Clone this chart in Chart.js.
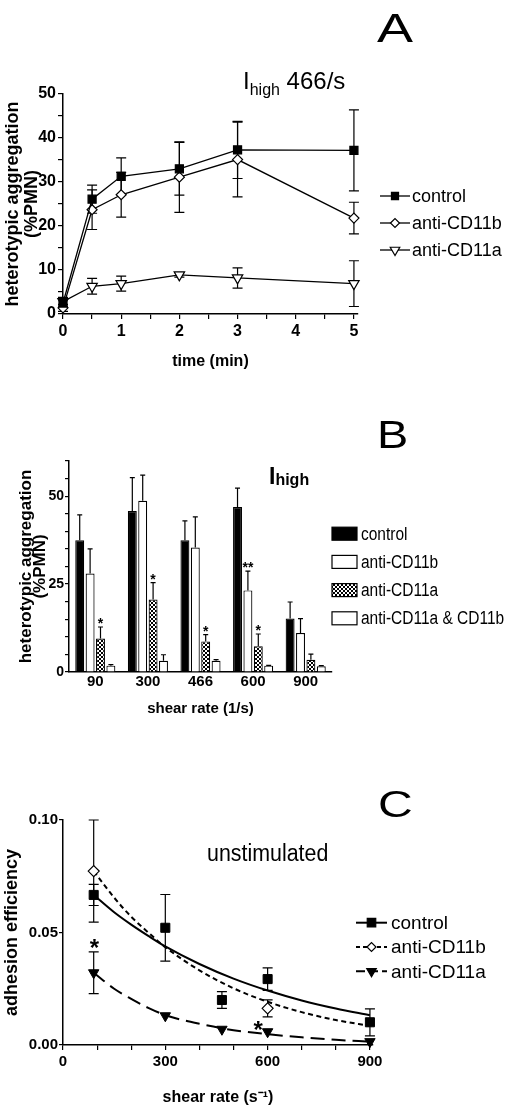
<!DOCTYPE html>
<html>
<head>
<meta charset="utf-8">
<script src="https://cdn.jsdelivr.net/npm/chart.js@4.4.1/dist/chart.umd.min.js"></script>
<style>
html, body { margin: 0; padding: 0; background: #fff; }
#page { position: relative; width: 520px; height: 1109px; overflow: hidden; }
canvas { position: absolute; left: 0; }
.lbl { position: absolute; font-family: "Liberation Sans", Arial, sans-serif; line-height: 1; white-space: nowrap; color: #000; transform-origin: 0 0; }
</style>
</head>
<body>
<div id="page">
  <canvas id="chartA" width="520" height="375" style="top:0"></canvas>
  <canvas id="chartB" width="520" height="345" style="top:375px"></canvas>
  <canvas id="chartC" width="520" height="389" style="top:720px"></canvas>

  <div class="lbl" style="left:377px;top:8px;font-size:40px;transform:scaleX(1.35)">A</div>
  <div class="lbl" style="left:243px;top:69px;font-size:24px">I<span style="font-size:16px;position:relative;top:6px">high</span> 466/s</div>

  <div class="lbl" style="left:377px;top:415px;font-size:39px;transform:scaleX(1.2)">B</div>
  <div class="lbl" style="left:269px;top:465px;font-size:23px;font-weight:bold">I<span style="font-size:16px;position:relative;top:1px">high</span></div>

  <div class="lbl" style="left:378px;top:786px;font-size:37px;transform:scaleX(1.3)">C</div>
  <div class="lbl" style="left:207px;top:842px;font-size:23px;transform:scaleX(0.93)">unstimulated</div>
</div>

<script>
// ---- panel A: aggregation vs time, I-high 466/s ----
const timeMin = [0, 0.5, 1, 2, 3, 5];
const aControl = [2.5, 26.1, 31.3, 33.0, 37.3, 37.2];
const aControlErr = [1.2, 3.2, 4.2, 6.0, 6.5, 9.2];
const aCd11b = [1.4, 23.7, 27.1, 31.1, 35.1, 21.8];
const aCd11bErr = [0.8, 4.5, 5.1, 8.0, 8.5, 3.6];
const aCd11a = [2.8, 6.3, 6.9, 8.9, 8.2, 6.9];
const aCd11aErr = [1.0, 1.8, 1.7, 0.5, 2.3, 5.2];
const aXTicks = [0, 0.5, 1, 1.5, 2, 2.5, 3, 3.5, 4, 4.5, 5];
const aXLabels = [0, 1, 2, 3, 4, 5];
const aYTicks = [0, 5, 10, 15, 20, 25, 30, 35, 40, 45, 50];
const aYLabels = [0, 10, 20, 30, 40, 50];

// ---- panel B: aggregation vs shear rate ----
const shearCats = ['90', '300', '466', '600', '900'];
const bControl = [37.5, 45.8, 37.5, 46.9, 15.2];
const bControlErr = [7.2, 9.5, 5.5, 5.4, 4.7];
const bCd11b = [28.0, 48.7, 35.4, 23.2, 11.1];
const bCd11bErr = [7.0, 7.3, 8.7, 5.5, 4.1];
const bCd11a = [9.5, 20.6, 8.7, 7.3, 3.5];
const bCd11aErr = [3.3, 4.8, 1.9, 3.5, 1.6];
const bBoth = [1.8, 3.2, 3.2, 1.8, 1.6];
const bBothErr = [0.3, 1.7, 0.3, 0.1, 0.2];
const bStars = [
  { cat: 0, series: 2, text: '*' },
  { cat: 1, series: 2, text: '*' },
  { cat: 2, series: 2, text: '*' },
  { cat: 3, series: 1, text: '**' },
  { cat: 3, series: 2, text: '*' }
];
const bYTicks = [0, 5, 10, 15, 20, 25, 30, 35, 40, 45, 50, 55, 60];
const bYLabels = [0, 25, 50];

// ---- panel C: adhesion efficiency, unstimulated ----
const cShear = [90, 300, 466, 600, 900];
const cControl = [0.0667, 0.0521, 0.0200, 0.0293, 0.0101];
const cControlErr = [0.0047, 0.0148, 0.0037, 0.0050, 0.0060];
const cCd11b = [0.0773, null, null, 0.0163, null];
const cCd11bErr = [0.0227, null, null, 0.0038, null];
const cCd11a = [0.0321, 0.0130, 0.0070, 0.0059, 0.0015];
const cCd11aErr = [0.0093, 0, 0, 0, 0];
const fitShear = [90, 150, 200, 250, 300, 400, 500, 600, 700, 800, 900];
const fitControl = [0.0667, 0.0590, 0.0535, 0.0485, 0.0438, 0.0360, 0.0295, 0.0242, 0.0198, 0.0162, 0.0132];
const fitCd11b = [0.0773, 0.0655, 0.0570, 0.0500, 0.0435, 0.0332, 0.0252, 0.0192, 0.0146, 0.0111, 0.0085];
const fitCd11a = [0.0321, 0.0250, 0.0205, 0.0165, 0.0133, 0.0094, 0.0066, 0.0048, 0.0034, 0.0023, 0.0015];
const cStars = [{ x: 92, y: 0.0453 }, { x: 572, y: 0.0089 }];
const cXTicks = [0, 100, 200, 300, 400, 500, 600, 700, 800, 900];
const cXLabels = [0, 300, 600, 900];
const cYTicks = [0, 0.05, 0.1];

const FONT = '"Liberation Sans", Arial, Helvetica, sans-serif';
Chart.defaults.font.family = FONT;
Chart.defaults.color = '#000';
Chart.defaults.animation = false;

function pts(xs, ys) {
    return xs.map((x, i) => ({ x: x, y: ys[i] }));
}

function fixedTicks(values) {
    return scale => { scale.ticks = values.map(v => ({ value: v })); };
}

function axisGrid(len) {
    return { display: true, drawOnChartArea: false, drawTicks: len > 0, tickLength: len, color: '#000', lineWidth: 1.2 };
}

function drawErrors(chart, onTop) {
    const ctx = chart.ctx, yScale = chart.scales.y;
    chart.data.datasets.forEach((ds, di) => {
        if (!ds.errors || !!ds.errorsOnTop !== onTop) return;
        const meta = chart.getDatasetMeta(di);
        ctx.save();
        ctx.strokeStyle = '#000';
        ctx.lineWidth = 1.2;
        meta.data.forEach((el, i) => {
            const e = ds.errors[i];
            const raw = ds.data[i];
            const v = raw !== null && typeof raw === 'object' ? raw.y : raw;
            if (!e || v === null || v === undefined) return;
            const x = el.x;
            const top = yScale.getPixelForValue(v + e);
            const bot = ds.errorsUp ? yScale.getPixelForValue(v) : yScale.getPixelForValue(v - e);
            const h = ds.capHalf || 4;
            ctx.beginPath();
            ctx.moveTo(x, top); ctx.lineTo(x, bot);
            ctx.moveTo(x - h, top); ctx.lineTo(x + h, top);
            if (!ds.errorsUp) { ctx.moveTo(x - h, bot); ctx.lineTo(x + h, bot); }
            ctx.stroke();
        });
        ctx.restore();
    });
}

const errorBars = {
    id: 'errorBars',
    beforeDatasetsDraw(chart) { drawErrors(chart, false); },
    afterDatasetsDraw(chart) { drawErrors(chart, true); }
};

function marker(ctx, style, x, y, r, fill, rotation) {
    ctx.save();
    ctx.fillStyle = fill;
    ctx.strokeStyle = '#000';
    ctx.lineWidth = 1.2;
    Chart.helpers.drawPoint(ctx, { pointStyle: style, rotation: rotation || 0, radius: r, borderWidth: 1.2 }, x, y);
    ctx.restore();
}

function lineLegend(cfg) {
    return {
        id: 'lineLegend',
        afterDraw(chart) {
            const ctx = chart.ctx;
            cfg.items.forEach((it, i) => {
                const y = cfg.y + i * cfg.gap;
                ctx.save();
                ctx.strokeStyle = '#000';
                ctx.lineWidth = it.width || 1.3;
                ctx.setLineDash(it.dash || []);
                ctx.beginPath();
                ctx.moveTo(cfg.x0, y); ctx.lineTo(cfg.x1, y);
                ctx.stroke();
                ctx.restore();
                marker(ctx, it.style, (cfg.x0 + cfg.x1) / 2, y, it.r, it.fill, it.rotation);
                ctx.save();
                ctx.fillStyle = '#000';
                ctx.font = cfg.font;
                ctx.textBaseline = 'middle';
                ctx.fillText(it.label, cfg.tx, y + 1);
                ctx.restore();
            });
        }
    };
}

function hatchPattern(ctx) {
    const c = document.createElement('canvas');
    c.width = 4; c.height = 4;
    const g = c.getContext('2d');
    g.fillStyle = '#fff';
    g.fillRect(0, 0, 4, 4);
    g.fillStyle = '#000';
    for (let i = 0; i < 4; i++) {
        g.fillRect(i, i, 1, 1);
        g.fillRect(i, 3 - i, 1, 1);
    }
    return ctx.createPattern(c, 'repeat');
}

// ================= Panel A =================
new Chart(document.getElementById('chartA'), {
    type: 'scatter',
    data: {
        datasets: [
            {
                label: 'control', data: pts(timeMin, aControl), errors: aControlErr, capHalf: 5,
                showLine: true, borderColor: '#000', borderWidth: 1.3, backgroundColor: '#000',
                pointStyle: 'rect', pointRadius: 5.7, pointBorderWidth: 1.2, clip: false
            },
            {
                label: 'anti-CD11b', data: pts(timeMin, aCd11b), errors: aCd11bErr, capHalf: 5,
                showLine: true, borderColor: '#000', borderWidth: 1.3, backgroundColor: '#fff',
                pointStyle: 'rectRot', pointRadius: 5, pointBorderWidth: 1.2, clip: false
            },
            {
                label: 'anti-CD11a', data: pts(timeMin, aCd11a), errors: aCd11aErr, capHalf: 5,
                showLine: true, borderColor: '#000', borderWidth: 1.3, backgroundColor: '#fff',
                pointStyle: 'triangle', pointRotation: 180, pointRadius: 6, pointBorderWidth: 1.2, clip: false
            }
        ]
    },
    options: {
        responsive: false,
        events: [],
        layout: { padding: { left: 0, top: 94, right: 162, bottom: 0 } },
        plugins: { legend: { display: false }, tooltip: { enabled: false } },
        scales: {
            x: {
                type: 'linear', min: 0, max: 5.07,
                afterBuildTicks: fixedTicks(aXTicks),
                afterFit: s => { s.height = 61; },
                grid: axisGrid(5),
                border: { color: '#000', width: 1.5 },
                ticks: {
                    autoSkip: false, maxRotation: 0, padding: 3,
                    font: { size: 16, weight: 'bold' },
                    callback: v => aXLabels.includes(v) ? String(v) : ''
                },
                title: { display: true, text: 'time (min)', font: { size: 16, weight: 'bold' }, padding: { top: 0, bottom: 3.4 } }
            },
            y: {
                min: 0, max: 50,
                afterBuildTicks: fixedTicks(aYTicks),
                afterFit: s => { s.width = 63; },
                grid: axisGrid(5),
                border: { color: '#000', width: 1.5 },
                ticks: {
                    autoSkip: false, padding: 2,
                    font: { size: 16, weight: 'bold' },
                    callback: v => aYLabels.includes(v) ? String(v) : ''
                },
                title: {
                    display: true, text: ['heterotypic aggregation', '(%PMN)'],
                    font: { size: 18, weight: 'bold', lineHeight: 1.05 }, padding: { top: 3.5, bottom: 0 }
                }
            }
        }
    },
    plugins: [errorBars, lineLegend({
        x0: 380, x1: 410, tx: 412, y: 196, gap: 27, font: '18px ' + FONT,
        items: [
            { label: 'control', style: 'rect', r: 5, fill: '#000' },
            { label: 'anti-CD11b', style: 'rectRot', r: 4.5, fill: '#fff' },
            { label: 'anti-CD11a', style: 'triangle', rotation: 180, r: 5.5, fill: '#fff' }
        ]
    })]
});

// ================= Panel B =================
const ctxB = document.getElementById('chartB').getContext('2d');
const hatch = hatchPattern(ctxB);
const bSeries = [
    { label: 'control', data: bControl, errors: bControlErr, fill: '#000' },
    { label: 'anti-CD11b', data: bCd11b, errors: bCd11bErr, fill: '#fff' },
    { label: 'anti-CD11a', data: bCd11a, errors: bCd11aErr, fill: hatch },
    { label: 'anti-CD11a & CD11b', data: bBoth, errors: bBothErr, fill: '#fff' }
];

const barLegendB = {
    id: 'barLegendB',
    afterDraw(chart) {
        const ctx = chart.ctx;
        bSeries.forEach((s, i) => {
            const y = 158.7 + i * 28.2;
            ctx.save();
            ctx.fillStyle = s.fill;
            ctx.fillRect(332, y - 6.5, 25, 13);
            ctx.strokeStyle = '#000';
            ctx.lineWidth = 1.2;
            ctx.strokeRect(332, y - 6.5, 25, 13);
            ctx.translate(361, y + 1);
            ctx.scale(0.86, 1);
            ctx.fillStyle = '#000';
            ctx.font = '18px ' + FONT;
            ctx.textBaseline = 'middle';
            ctx.fillText(s.label, 0, 0);
            ctx.restore();
        });
    }
};

const starsB = {
    id: 'starsB',
    afterDraw(chart) {
        const ctx = chart.ctx, yScale = chart.scales.y;
        ctx.save();
        ctx.fillStyle = '#000';
        ctx.font = 'bold 14px ' + FONT;
        ctx.textAlign = 'center';
        ctx.textBaseline = 'alphabetic';
        bStars.forEach(st => {
            const s = bSeries[st.series];
            const el = chart.getDatasetMeta(st.series).data[st.cat];
            const top = yScale.getPixelForValue(s.data[st.cat] + s.errors[st.cat]);
            ctx.fillText(st.text, el.x, top + 1);
        });
        ctx.restore();
    }
};

new Chart(ctxB, {
    type: 'bar',
    data: {
        labels: shearCats,
        datasets: bSeries.map(s => ({
            label: s.label, data: s.data, errors: s.errors, errorsUp: true, errorsOnTop: true, capHalf: 2.5,
            backgroundColor: s.fill, borderColor: '#000', borderWidth: 1.2, borderSkipped: 'bottom',
            categoryPercentage: 0.79, barPercentage: 0.86
        }))
    },
    options: {
        responsive: false,
        events: [],
        layout: { padding: { left: 0, top: 86, right: 188, bottom: 0 } },
        plugins: { legend: { display: false }, tooltip: { enabled: false } },
        scales: {
            x: {
                afterFit: s => { s.height = 48; },
                grid: axisGrid(0),
                border: { color: '#000', width: 1.5 },
                ticks: { padding: 1, font: { size: 15, weight: 'bold' } },
                title: { display: true, text: 'shear rate (1/s)', font: { size: 15, weight: 'bold' }, padding: { top: 0, bottom: 2 } }
            },
            y: {
                min: 0, max: 60,
                afterBuildTicks: fixedTicks(bYTicks),
                afterFit: s => { s.width = 69; },
                grid: axisGrid(4),
                border: { color: '#000', width: 1.5 },
                ticks: {
                    autoSkip: false, padding: 1,
                    font: { size: 14, weight: 'bold' },
                    callback: v => bYLabels.includes(v) ? String(v) : ''
                },
                title: {
                    display: true, text: ['heterotypic aggregation', '(%PMN)'],
                    font: { size: 17, weight: 'bold', lineHeight: 0.82 }, padding: { top: 19, bottom: 0 }
                }
            }
        }
    },
    plugins: [errorBars, barLegendB, starsB]
});

// ================= Panel C =================
const starsC = {
    id: 'starsC',
    afterDraw(chart) {
        const ctx = chart.ctx, xs = chart.scales.x, ys = chart.scales.y;
        ctx.save();
        ctx.fillStyle = '#000';
        ctx.font = 'bold 24px ' + FONT;
        ctx.textAlign = 'center';
        ctx.textBaseline = 'alphabetic';
        cStars.forEach(st => {
            ctx.fillText('*', xs.getPixelForValue(st.x), ys.getPixelForValue(st.y) + 13);
        });
        ctx.restore();
    }
};

new Chart(document.getElementById('chartC'), {
    type: 'scatter',
    data: {
        datasets: [
            {
                label: 'control', data: pts(cShear, cControl), errors: cControlErr, capHalf: 5,
                backgroundColor: '#000', borderColor: '#000', pointStyle: 'rect', pointRadius: 6.4, pointBorderWidth: 1, clip: false
            },
            {
                label: 'anti-CD11b', data: pts(cShear, cCd11b), errors: cCd11bErr, capHalf: 5,
                backgroundColor: '#fff', borderColor: '#000', pointStyle: 'rectRot', pointRadius: 5.5, pointBorderWidth: 1.2, clip: false
            },
            {
                label: 'anti-CD11a', data: pts(cShear, cCd11a), errors: cCd11aErr, capHalf: 5,
                backgroundColor: '#000', borderColor: '#000', pointStyle: 'triangle', pointRotation: 180, pointRadius: 6, pointBorderWidth: 1, clip: false
            },
            {
                label: 'control fit', data: pts(fitShear, fitControl), showLine: true, pointRadius: 0,
                borderColor: '#000', borderWidth: 2, cubicInterpolationMode: 'monotone', clip: false
            },
            {
                label: 'anti-CD11b fit', data: pts(fitShear, fitCd11b), showLine: true, pointRadius: 0,
                borderColor: '#000', borderWidth: 2, borderDash: [5, 3.5], cubicInterpolationMode: 'monotone', clip: false
            },
            {
                label: 'anti-CD11a fit', data: pts(fitShear, fitCd11a), showLine: true, pointRadius: 0,
                borderColor: '#000', borderWidth: 2, borderDash: [14, 7], cubicInterpolationMode: 'monotone', clip: false
            }
        ]
    },
    options: {
        responsive: false,
        events: [],
        layout: { padding: { left: 0, top: 100, right: 147, bottom: 0 } },
        plugins: { legend: { display: false }, tooltip: { enabled: false } },
        scales: {
            x: {
                type: 'linear', min: 0, max: 909,
                afterBuildTicks: fixedTicks(cXTicks),
                afterFit: s => { s.height = 64; },
                grid: axisGrid(5),
                border: { color: '#000', width: 1.5 },
                ticks: {
                    autoSkip: false, maxRotation: 0, padding: 3,
                    font: { size: 15, weight: 'bold' },
                    callback: v => cXLabels.includes(v) ? String(v) : ''
                },
                title: { display: true, text: 'shear rate (s\u207B\u00B9)', font: { size: 16, weight: 'bold' }, padding: { top: 0, bottom: 1.4 } }
            },
            y: {
                min: 0, max: 0.1,
                afterBuildTicks: fixedTicks(cYTicks),
                afterFit: s => { s.width = 63; },
                grid: axisGrid(4),
                border: { color: '#000', width: 1.5 },
                ticks: {
                    autoSkip: false, padding: 1,
                    font: { size: 15, weight: 'bold' },
                    callback: v => v.toFixed(2)
                },
                title: { display: true, text: 'adhesion efficiency', font: { size: 18, weight: 'bold' }, padding: { top: 1.2, bottom: 0 } }
            }
        }
    },
    plugins: [errorBars, starsC, lineLegend({
        x0: 356, x1: 387, tx: 391, y: 202.7, gap: 24.3, font: '19px ' + FONT,
        items: [
            { label: 'control', style: 'rect', r: 6, fill: '#000', width: 2 },
            { label: 'anti-CD11b', style: 'rectRot', r: 4.5, fill: '#fff', width: 2, dash: [4, 3] },
            { label: 'anti-CD11a', style: 'triangle', rotation: 180, r: 5.5, fill: '#000', width: 2, dash: [9, 4] }
        ]
    })]
});
</script>
</body>
</html>
